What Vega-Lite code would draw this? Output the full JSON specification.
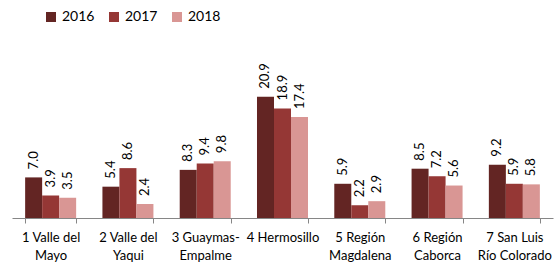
{
  "$schema": "https://vega.github.io/schema/vega-lite/v6.json",
  "width": 541,
  "height": 174,
  "autosize": "none",
  "padding": {"left": 12, "top": 44, "right": 3, "bottom": 44},
  "background": "white",
  "config": {"view": {"stroke": null}, "font": "Lato"},
  "data": {"values": [
    {"region": "1 Valle del|Mayo", "year": "2016", "value": 7.0},
    {"region": "1 Valle del|Mayo", "year": "2017", "value": 3.9},
    {"region": "1 Valle del|Mayo", "year": "2018", "value": 3.5},
    {"region": "2 Valle del|Yaqui", "year": "2016", "value": 5.4},
    {"region": "2 Valle del|Yaqui", "year": "2017", "value": 8.6},
    {"region": "2 Valle del|Yaqui", "year": "2018", "value": 2.4},
    {"region": "3 Guaymas-|Empalme", "year": "2016", "value": 8.3},
    {"region": "3 Guaymas-|Empalme", "year": "2017", "value": 9.4},
    {"region": "3 Guaymas-|Empalme", "year": "2018", "value": 9.8},
    {"region": "4 Hermosillo", "year": "2016", "value": 20.9},
    {"region": "4 Hermosillo", "year": "2017", "value": 18.9},
    {"region": "4 Hermosillo", "year": "2018", "value": 17.4},
    {"region": "5 Región|Magdalena", "year": "2016", "value": 5.9},
    {"region": "5 Región|Magdalena", "year": "2017", "value": 2.2},
    {"region": "5 Región|Magdalena", "year": "2018", "value": 2.9},
    {"region": "6 Región|Caborca", "year": "2016", "value": 8.5},
    {"region": "6 Región|Caborca", "year": "2017", "value": 7.2},
    {"region": "6 Región|Caborca", "year": "2018", "value": 5.6},
    {"region": "7 San Luis|Río Colorado", "year": "2016", "value": 9.2},
    {"region": "7 San Luis|Río Colorado", "year": "2017", "value": 5.9},
    {"region": "7 San Luis|Río Colorado", "year": "2018", "value": 5.8}
  ]},
  "encoding": {
    "x": {
      "field": "region", "type": "nominal", "sort": null,
      "scale": {"paddingInner": 0.34, "paddingOuter": 0.17},
      "axis": {
        "title": null, "labelAngle": 0, "labelExpr": "split(datum.label, '|')",
        "labelFontSize": 13, "labelColor": "#000000", "labelPadding": 8,
        "labelLineHeight": 18, "labelBaseline": "top",
        "tickBand": "extent", "ticks": true, "tickSize": 5, "tickColor": "#868686",
        "domainColor": "#868686", "grid": false
      }
    },
    "xOffset": {"field": "year", "type": "nominal", "scale": {"paddingInner": 0, "paddingOuter": 0}},
    "y": {"field": "value", "type": "quantitative", "scale": {"domain": [0, 30], "nice": false}, "axis": null}
  },
  "layer": [
    {
      "mark": {"type": "bar"},
      "encoding": {
        "color": {
          "field": "year", "type": "nominal",
          "scale": {"domain": ["2016", "2017", "2018"], "range": ["#632523", "#953735", "#D99694"]},
          "legend": {
            "title": null, "orient": "none", "direction": "horizontal",
            "legendX": 32, "legendY": -34, "padding": 0,
            "symbolType": "square", "symbolSize": 100, "symbolStrokeWidth": 0,
            "labelFontSize": 14, "labelColor": "#000000", "columnPadding": 12, "labelOffset": 4
          }
        }
      }
    },
    {
      "mark": {"type": "text", "angle": 270, "align": "left", "baseline": "middle", "dx": 8, "fontSize": 13, "color": "#000000"},
      "encoding": {"text": {"field": "value", "type": "quantitative", "format": ".1f"}}
    }
  ]
}
